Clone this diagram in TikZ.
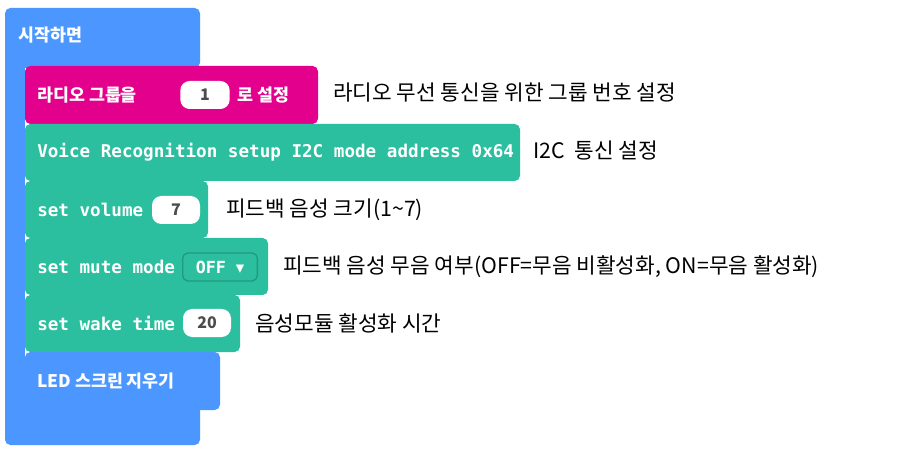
\documentclass[tikz,border=0pt]{standalone}
\usepackage{fontspec}
\setmainfont{Noto Sans CJK KR}
\newfontfamily\kr{Noto Sans CJK KR}
\newfontfamily\mono{DejaVu Sans Mono}
\newfontfamily\djsym{DejaVu Sans}
\definecolor{mblue}{HTML}{4C97FF}
\definecolor{mpink}{HTML}{E3008C}
\definecolor{mteal}{HTML}{2CBF9F}
\definecolor{mtealdark}{HTML}{1F9A80}
\begin{document}
\begin{tikzpicture}[x=0.75pt,y=-0.75pt,
  blk/.style={rounded corners=4pt},
  lbl/.style={anchor=west,text=white,font=\kr\bfseries\fontsize{13}{14}\selectfont,inner sep=0},
  mlbl/.style={anchor=west,text=white,font=\mono\bfseries\fontsize{13.2}{14}\selectfont,inner sep=0},
  note/.style={anchor=west,text=black,font=\kr\fontsize{16}{17}\selectfont,inner sep=0},
  oval/.style={fill=white,rounded corners=7pt,minimum width=#1,minimum height=21pt,inner sep=0,font=\kr\bfseries\fontsize{12}{13}\selectfont,text=black!70}]
\useasboundingbox (0,0) rectangle (904,456);
\fill[white] (0,0) rectangle (904,456);
% blue hat block
\fill[mblue,blk] (5,8) rectangle (200,68);
\fill[mblue] (5,55) rectangle (25,420);
\fill[mblue,blk] (5,405) rectangle (200,445);
\node[lbl] (start) at (18,35) {시작하면};
% radio
\fill[mpink,blk] (25,66) rectangle (318,124);
\node[lbl] (r1) at (37,95) {라디오 그룹을};
\node[oval=37pt] (o1) at (205,95) {1};
\node[lbl] (r2) at (237,95) {로 설정};
% voice
\fill[mteal,blk] (25,124) rectangle (520,181);
\node[mlbl] (v) at (37,152) {Voice Recognition setup I2C mode address 0x64};
% volume
\fill[mteal,blk] (25,181) rectangle (208,238);
\node[mlbl] (vol) at (37,210) {set volume};
\node[oval=36pt] (o2) at (176,210) {7};
% mute
\fill[mteal,blk] (25,238) rectangle (268,295);
\node[mlbl] (mute) at (37,267) {set mute mode};
\node[draw=mtealdark,line width=1pt,fill=mteal,rounded corners=4pt,minimum width=56pt,minimum height=21pt,inner sep=0,text=white,font=\mono\bfseries\fontsize{12.5}{13}\selectfont] (dd) at (220,267) {OFF {\djsym▾}};
% wake
\fill[mteal,blk] (25,295) rectangle (240,352);
\node[mlbl] (wake) at (37,323) {set wake time};
\node[oval=36pt] (o3) at (207,323) {20};
% LED
\fill[mblue,blk] (25,352) rectangle (220,410);
\node[lbl] (led) at (37,381) {LED 스크린 지우기};
% notes
\node[note] (n1) at (333,93) {라디오 무선 통신을 위한 그룹 번호 설정};
\node[note] (n2) at (533,151) {I2C\ \ 통신 설정};
\node[note] (n3) at (226,210) {피드백 음성 크기(1\textasciitilde7)};
\node[note] (n4) at (283,267) {피드백 음성 무음 여부(OFF=무음 비활성화, ON=무음 활성화)};
\node[note] (n5) at (255,323) {음성모듈 활성화 시간};
\end{tikzpicture}
\end{document}
